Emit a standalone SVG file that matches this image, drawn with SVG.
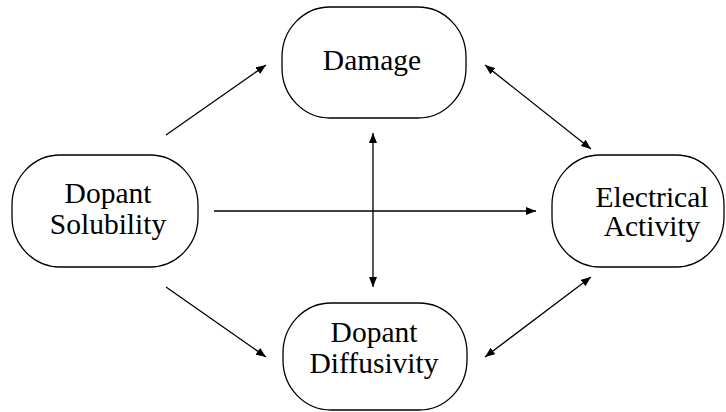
<svg xmlns="http://www.w3.org/2000/svg" width="726" height="412" viewBox="0 0 726 412">
<style>
.node rect{fill:#fff;stroke:#000;stroke-width:1.3}
.node text{font-family:"Liberation Serif","DejaVu Serif",serif;font-size:29.5px;fill:#000;text-anchor:middle}
.conn line{stroke:#000;stroke-width:1.3;fill:none}
</style>
<defs>
<marker id="ah" viewBox="0 0 10 8" refX="10" refY="4" markerWidth="10" markerHeight="8" markerUnits="userSpaceOnUse" orient="auto-start-reverse">
<path d="M0,0 L10,4 L0,8 Z" fill="#000"/>
</marker>
</defs>
<rect width="726" height="412" fill="#fff"/>
<g id="connectors" class="conn">
<line x1="166" y1="135" x2="266" y2="65" marker-end="url(#ah)"/>
<line x1="166" y1="287" x2="266" y2="357" marker-end="url(#ah)"/>
<line x1="214" y1="211" x2="536" y2="211" marker-end="url(#ah)"/>
<line x1="373" y1="133" x2="373" y2="287" marker-start="url(#ah)" marker-end="url(#ah)"/>
<line x1="485" y1="65" x2="591" y2="149" marker-start="url(#ah)" marker-end="url(#ah)"/>
<line x1="485" y1="357" x2="591" y2="277" marker-start="url(#ah)" marker-end="url(#ah)"/>
</g>
<g id="damage" class="node">
<rect x="282" y="7" width="184" height="111" rx="48" ry="50"/>
<text x="372" y="70">Damage</text>
</g>
<g id="solubility" class="node">
<rect x="12" y="155" width="186" height="112" rx="48" ry="50"/>
<text x="108" y="203">Dopant</text>
<text x="108" y="234">Solubility</text>
</g>
<g id="electrical" class="node">
<rect x="552" y="155" width="172" height="112" rx="48" ry="50"/>
<text x="652" y="207">Electrical</text>
<text x="652" y="236">Activity</text>
</g>
<g id="diffusivity" class="node">
<rect x="283" y="303" width="184" height="107" rx="48" ry="50"/>
<text x="374" y="342">Dopant</text>
<text x="374" y="373">Diffusivity</text>
</g>
</svg>
